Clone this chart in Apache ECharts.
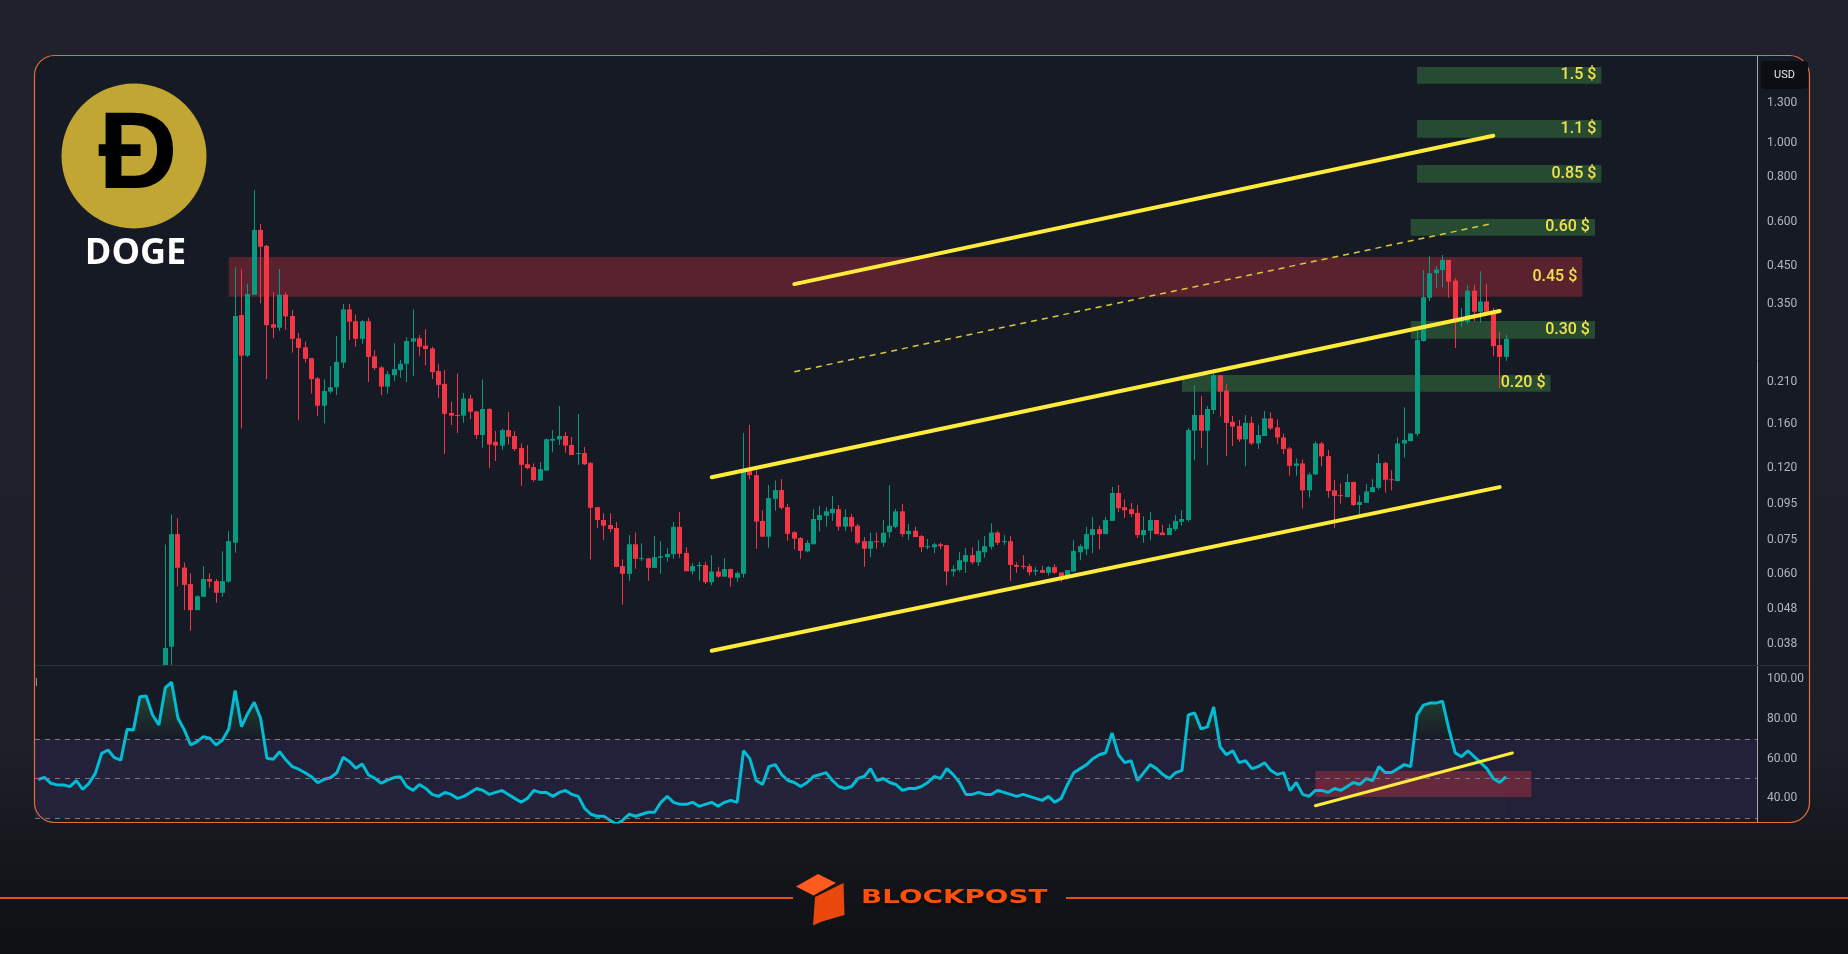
<!DOCTYPE html>
<html><head><meta charset="utf-8">
<script src="https://cdn.jsdelivr.net/npm/echarts@6/dist/echarts.min.js"></script>
<style>
html,body{margin:0;padding:0;width:1848px;height:954px;overflow:hidden;
background:linear-gradient(180deg,#1f222c 0%,#1d2029 78%,#15171d 89%,#0f1013 100%);}
#c{position:absolute;left:0;top:0;width:1848px;height:954px;}
</style></head><body><div id="c"></div><script>
// ---------- DATA (weekly DOGE/USD) ----------
const hiddenWeeks = 20;           // weeks before the first visible candle (price below the axis range)
const firstWeek = '2020-09-07';
const opens = [0.0085,0.0374,0.0780,0.0627,0.0563,0.0475,0.0518,0.0582,0.0574,0.0532,
0.0572,0.0737,0.326,0.250,0.372,0.568,0.512,0.307,0.300,0.372,
0.324,0.280,0.264,0.246,0.2155,0.1803,0.1978,0.2034,0.239,0.338,
0.313,0.279,0.313,0.249,0.2315,0.2043,0.220,0.2275,0.237,0.274,
0.280,0.267,0.262,0.226,0.208,0.1720,0.1697,0.169,0.189,0.1737,
0.1489,0.1765,0.1425,0.139,0.1538,0.148,0.1368,0.1231,0.1208,0.1106,
0.1181,0.1435,0.1447,0.148,0.1395,0.1315,0.1324,0.1240,0.093,0.0855,
0.0828,0.0812,0.0633,0.0602,0.0730,0.0664,0.0666,0.0626,0.0668,0.0671,
0.0684,0.0818,0.0690,0.0612,0.0633,0.0637,0.0570,0.0611,0.0591,0.0621,
0.0587,0.0602,0.1179,0.1146,0.0850,0.0767,0.0982,0.104,0.0930,0.0790,
0.0760,0.0697,0.0730,0.0855,0.0879,0.0894,0.0918,0.0819,0.0872,0.0824,
0.0745,0.0709,0.0745,0.0737,0.0790,0.0818,0.0905,0.0780,0.0797,0.0770,
0.0716,0.0716,0.0730,0.0726,0.0611,0.0617,0.0651,0.0680,0.0649,0.0693,
0.0718,0.0788,0.0743,0.0745,0.0638,0.0634,0.0633,0.0611,0.0617,0.0606,
0.0629,0.0607,0.0591,0.0611,0.0693,0.0707,0.0775,0.0806,0.0780,0.0850,
0.1020,0.0930,0.0918,0.0896,0.0775,0.0797,0.0855,0.0788,0.0775,0.0806,
0.0846,0.0855,0.1532,0.1697,0.1532,0.1753,0.220,0.1990,0.1623,0.1580,
0.1447,0.1613,0.141,0.148,0.166,0.1565,0.1466,0.1364,0.1218,0.1237,
0.1038,0.1151,0.141,0.1298,0.1038,0.1006,0.0993,0.1096,0.0943,0.0957,
0.1026,0.1055,0.124,0.1116,0.1103,0.1408,0.1431,0.150,0.275,0.365,
0.428,0.437,0.467,0.408,0.312,0.312,0.382,0.333,0.356,0.335,
0.268,0.248];
const highs = [0.0729,0.0887,0.0865,0.0648,0.0604,0.0524,0.0633,0.0604,0.0582,0.0698,
0.0796,0.445,0.439,0.400,0.737,0.591,0.515,0.378,0.440,0.378,
0.337,0.290,0.274,0.246,0.2175,0.214,0.2335,0.284,0.350,0.350,
0.327,0.315,0.320,0.259,0.2335,0.226,0.271,0.243,0.282,0.338,
0.286,0.297,0.265,0.237,0.2275,0.1850,0.2225,0.196,0.1933,0.1743,
0.214,0.1780,0.1528,0.1555,0.173,0.1528,0.141,0.1395,0.1237,0.1248,
0.1457,0.1538,0.180,0.1519,0.147,0.1708,0.1377,0.1248,0.093,0.0894,
0.0894,0.0844,0.0662,0.0775,0.0788,0.0735,0.0667,0.077,0.0745,0.0712,
0.0844,0.0901,0.0716,0.0645,0.0651,0.0651,0.0680,0.0629,0.0667,0.0623,
0.0611,0.1508,0.159,0.1184,0.0912,0.1074,0.1106,0.1117,0.0949,0.0796,
0.0765,0.0750,0.0918,0.0937,0.0930,0.1000,0.0943,0.0918,0.0889,0.0833,
0.0765,0.0787,0.0787,0.0855,0.1074,0.0920,0.0949,0.0833,0.0818,0.0775,
0.0755,0.0737,0.0737,0.0728,0.0637,0.0693,0.0712,0.0716,0.0750,0.0770,
0.0838,0.0796,0.0775,0.0770,0.0649,0.0680,0.0643,0.0629,0.0633,0.0634,
0.0641,0.0607,0.0617,0.0750,0.0730,0.0818,0.0872,0.0824,0.0872,0.1060,
0.1074,0.0980,0.0956,0.0943,0.0877,0.0901,0.0855,0.0828,0.0833,0.0883,
0.0912,0.1560,0.206,0.1920,0.180,0.2275,0.220,0.2085,0.1686,0.1642,
0.1697,0.168,0.159,0.1741,0.1729,0.1649,0.1505,0.1378,0.1278,0.1270,
0.1166,0.1431,0.1422,0.135,0.111,0.1086,0.1154,0.1099,0.1006,0.1081,
0.1117,0.1316,0.1250,0.1184,0.1466,0.1785,0.1505,0.297,0.437,0.479,
0.449,0.482,0.467,0.414,0.341,0.397,0.397,0.434,0.399,0.341,
0.292,0.286];
const lows = [0.0075,0.030,0.0555,0.0475,0.0415,0.0475,0.0518,0.0551,0.0498,0.0518,
0.0568,0.0691,0.1555,0.248,0.372,0.352,0.2145,0.280,0.294,0.296,
0.255,0.164,0.239,0.1953,0.1690,0.1607,0.1953,0.1933,0.2305,0.277,
0.265,0.270,0.2105,0.2275,0.1933,0.1953,0.2115,0.2165,0.2105,0.219,
0.250,0.235,0.2145,0.190,0.1316,0.159,0.151,0.1613,0.1653,0.1450,
0.137,0.120,0.1256,0.135,0.1403,0.1341,0.1069,0.1192,0.1098,0.1106,
0.1177,0.1331,0.1395,0.1327,0.1307,0.1224,0.1224,0.0662,0.0812,0.0751,
0.0790,0.0630,0.0492,0.0575,0.0622,0.0655,0.0575,0.0626,0.0602,0.0652,
0.0664,0.0668,0.0612,0.0599,0.0575,0.0563,0.0559,0.0587,0.0591,0.0553,
0.0572,0.0587,0.1116,0.0709,0.0767,0.0714,0.0908,0.0916,0.0747,0.0705,
0.0664,0.0693,0.0730,0.0793,0.0819,0.0851,0.0797,0.0797,0.0793,0.0730,
0.0630,0.0671,0.0709,0.0718,0.0760,0.0810,0.0765,0.0751,0.0765,0.0693,
0.0707,0.0689,0.0707,0.0559,0.0591,0.0611,0.0605,0.0641,0.0633,0.0668,
0.0705,0.0726,0.0726,0.0574,0.0606,0.0621,0.0595,0.0595,0.0606,0.0595,
0.0602,0.0572,0.0580,0.0611,0.0658,0.0680,0.0689,0.0707,0.0780,0.0850,
0.0901,0.0866,0.0872,0.0760,0.0737,0.0750,0.0780,0.0775,0.0775,0.0796,
0.0824,0.0846,0.1264,0.137,0.1224,0.1709,0.168,0.1298,0.1387,0.1425,
0.1214,0.1395,0.1359,0.148,0.1538,0.1406,0.1316,0.1141,0.1141,0.0922,
0.0991,0.1151,0.1214,0.0991,0.0810,0.0953,0.0993,0.0937,0.0889,0.0957,
0.1026,0.1044,0.1022,0.1038,0.1099,0.1287,0.1431,0.148,0.274,0.357,
0.389,0.390,0.365,0.263,0.302,0.307,0.313,0.310,0.333,0.249,
0.2025,0.242];
const closes = [0.0371,0.0780,0.0626,0.0560,0.0475,0.0520,0.0582,0.0572,0.0532,0.0574,
0.0745,0.324,0.250,0.374,0.568,0.509,0.305,0.300,0.372,0.323,
0.279,0.263,0.245,0.2145,0.1803,0.1985,0.2034,0.240,0.338,0.312,
0.279,0.313,0.248,0.2305,0.2043,0.2215,0.229,0.237,0.275,0.280,
0.265,0.261,0.2245,0.2065,0.1709,0.169,0.169,0.189,0.1733,0.1489,
0.1765,0.140,0.139,0.1538,0.1473,0.1359,0.1226,0.120,0.111,0.1192,
0.1448,0.1452,0.148,0.139,0.1307,0.1324,0.1231,0.0926,0.0855,0.0824,
0.0806,0.0630,0.0602,0.0730,0.0664,0.0667,0.0626,0.0671,0.0675,0.0685,
0.0818,0.0686,0.0612,0.0633,0.0638,0.0570,0.0611,0.0591,0.0621,0.0587,
0.0605,0.1179,0.1146,0.0846,0.0767,0.0987,0.104,0.0926,0.0781,0.0757,
0.0699,0.0736,0.0861,0.0883,0.0905,0.0920,0.0819,0.0872,0.0819,0.0737,
0.0709,0.0745,0.0742,0.0787,0.0824,0.0905,0.0780,0.0797,0.0765,0.0716,
0.0721,0.0730,0.0721,0.0611,0.0621,0.0658,0.0680,0.0649,0.0699,0.0721,
0.0788,0.0737,0.0745,0.0638,0.0630,0.0630,0.0608,0.0617,0.0606,0.0629,
0.0606,0.0591,0.0617,0.0699,0.0721,0.0780,0.0806,0.0780,0.0855,0.1020,
0.0924,0.0912,0.0889,0.0775,0.0801,0.0855,0.0780,0.0775,0.0812,0.0850,
0.0861,0.1538,0.1697,0.1532,0.1765,0.220,0.1978,0.1613,0.1573,0.1447,
0.1613,0.1410,0.1489,0.166,0.1555,0.1466,0.1359,0.1218,0.1237,0.1038,
0.1151,0.141,0.1295,0.1033,0.1001,0.1001,0.1096,0.0943,0.0962,0.1031,
0.1060,0.1240,0.1112,0.1112,0.1410,0.1441,0.1505,0.277,0.366,0.428,
0.439,0.467,0.405,0.310,0.317,0.382,0.333,0.356,0.333,0.266,
0.248,0.279];
// RSI(14), one value per week from the first week
const rsi = [49.5,50.6,47.6,46.8,46.8,45.9,48.9,44.6,47.6,52.6,
62.7,64.4,60.5,59.3,74.8,74.5,91.2,91.6,82.0,77.0,
95.8,98.5,80.4,74.5,66.9,68.6,71.1,70.3,66.9,69.4,
75.0,94.3,76.1,82.9,88.4,80.4,60.2,59.7,63.5,59.3,
56.0,54.7,52.9,50.9,47.9,49.6,50.4,52.9,60.7,58.5,
55.2,57.3,51.8,50.1,47.6,49.3,50.5,50.9,46,44,
47,45,42,41,43,42,40,41,43,45,
44,42,43,44,42,40,38,40,44,43,
43,41,43,44,42,41,35,32,31,31,
29,27,29,32,31,32,33,33,38,41,
38,37,37,38,36,37,38,36,38,39,
38,64,60,49,47,56,57,52,49,48,
46,48,51,52,53,49,46,45,46,50,
51,55,49,50,48,47,44,45,45,46,
48,51,50,55,52,48,42,42,43,42,
42,44,43,42,41,42,41,40,39,41,
38,40,47,53,55,57,60,62,63,73,
62,58,59,49,53,57,55,52,50,53,
54,82,83,75,76,86,66,62,64,58,
59,55,56,58,54,52,53,44,48,42,
41,44,44,43,45,44,46,48,47,50,
49,56,53,53,55,57,56,82,87,88,
88,89,75,63,61,64,61,58,55,50,
48,51];
const lastPrice = 0.279;
const totalSlots = 271;           // weeks on the time axis incl. empty right margin
const priceRange = [0.0332, 1.767];
const priceTicks = [1.3, 1.0, 0.8, 0.6, 0.45, 0.35, 0.21, 0.16, 0.12, 0.095, 0.075, 0.06, 0.048, 0.038];
const rsiRange = [28.1, 107.2];
const rsiTicks = [40, 60, 80, 100];
const rsiLevels = [70, 50, 30];
// price zones
const zoneLabels = ['1.5 $','1.1 $','0.85 $','0.60 $','0.45 $','0.30 $','0.20 $'];
const zoneFrom   = [217,217,217,216,30,216,180];
const zoneTo     = [246,246,246,245,243,245,238];
const zoneLow    = [1.475,1.037,0.773,0.547,0.367,0.2791,0.1975];
const zoneHigh   = [1.644,1.163,0.867,0.610,0.476,0.3133,0.2202];
const zoneKind   = ['g','g','g','g','r','g','g'];
// trend lines: [week0, price0, week1, price1, dashed]
const trendLines = [[119,0.3988,229,1.050,0],[106,0.1131,230,0.3344,0],[106,0.03643,230,0.1060,0],[119,0.2251,229,0.5929,1]];
const rsiBox = [201,40.7,235,53.8];
const rsiTrend = [201,36.3,232,62.9];

// ---------- BUILD ----------
const categories = [];
{ const d0 = new Date(firstWeek + 'T00:00:00Z');
  for (let i = 0; i < totalSlots; i++) { const d = new Date(d0.getTime() + i*7*86400000); categories.push(d.toISOString().slice(0,10)); } }
const L = Math.log;
const candleRows = opens.map((o, k) => [hiddenWeeks + k, L(o), L(closes[k]), L(lows[k]), L(highs[k])]);

const GREEN = '#089981', RED = '#f23645', YEL = '#ffeb3b';
const FONT = 'Roboto, "Noto Sans", sans-serif';
const LEFT = 35, WIDTH = 1722;

const zoneAreas = zoneLabels.map((lab, i) => [
  { name: lab, xAxis: zoneFrom[i], yAxis: L(zoneLow[i]),
    itemStyle: { color: zoneKind[i] === 'r' ? 'rgba(242,54,69,0.31)' : 'rgba(76,175,80,0.33)' } },
  { xAxis: zoneTo[i], yAxis: L(zoneHigh[i]) }
]);
const trendMarks = trendLines.map(t => [
  { coord: [t[0], L(t[1])], lineStyle: t[4] ? { color: '#d8c83a', width: 1.5, type: [6, 5], cap: 'butt' } : { color: YEL, width: 4, type: 'solid', cap: 'round' } },
  { coord: [t[2], L(t[3])] }
]);

function renderCandle(params, api) {
  const i = api.value(0);
  const vo = api.value(1), vc = api.value(2);
  const po = api.coord([i, vo]), pc = api.coord([i, vc]);
  const pl = api.coord([i, api.value(3)]), ph = api.coord([i, api.value(4)]);
  const cs = params.coordSys;
  const box = { x: cs.x, y: cs.y, width: cs.width, height: cs.height };
  const col = vc >= vo ? GREEN : RED;
  const cx = Math.floor(po[0]);
  const wick = echarts.graphic.clipRectByRect({ x: cx, y: ph[1], width: 1, height: pl[1] - ph[1] }, box);
  const top = Math.min(po[1], pc[1]);
  const body = echarts.graphic.clipRectByRect({ x: cx - 2, y: top, width: 5, height: Math.max(1, Math.abs(po[1] - pc[1])) }, box);
  const children = [];
  if (wick) children.push({ type: 'rect', shape: wick, style: { fill: col } });
  if (body) children.push({ type: 'rect', shape: body, style: { fill: col } });
  return { type: 'group', children };
}

const chart = echarts.init(document.getElementById('c'), null, { renderer: 'canvas' });
const option = {
  backgroundColor: 'transparent',
  animation: false,
  grid: [
    { left: LEFT, width: WIDTH, top: 56, height: 609 },
    { left: LEFT, width: WIDTH, top: 665, height: 157 }
  ],
  xAxis: [
    { type: 'category', data: categories, gridIndex: 0, show: false, boundaryGap: true },
    { type: 'category', data: categories, gridIndex: 1, show: false, boundaryGap: true }
  ],
  yAxis: [
    { type: 'value', gridIndex: 0, position: 'right', min: L(priceRange[0]), max: L(priceRange[1]),
      axisLine: { show: true, lineStyle: { color: '#a3a6af', width: 1 } },
      axisTick: { show: false }, splitLine: { show: false },
      axisLabel: { customValues: priceTicks.map(L), formatter: v => Math.exp(v).toFixed(3),
        color: '#b2b5be', fontSize: 12, fontFamily: FONT, margin: 10 } },
    { type: 'value', gridIndex: 1, position: 'right', min: rsiRange[0], max: rsiRange[1],
      axisLine: { show: true, lineStyle: { color: '#a3a6af', width: 1 } },
      axisTick: { show: false }, splitLine: { show: false },
      axisLabel: { customValues: rsiTicks, formatter: v => v.toFixed(2),
        color: '#b2b5be', fontSize: 12, fontFamily: FONT, margin: 10 } }
  ],
  series: [
    // zones
    { type: 'line', xAxisIndex: 0, yAxisIndex: 0, data: [], silent: true, z: 1,
      markArea: { silent: true, data: zoneAreas,
        label: { show: true, position: 'insideRight', distance: 5, color: '#f3e14b', fontSize: 16, fontFamily: FONT, fontWeight: 500 } } },
    // candles
    { type: 'custom', xAxisIndex: 0, yAxisIndex: 0, data: candleRows, clip: true, z: 2, silent: true,
      encode: { x: 0, y: [1, 2, 3, 4] }, renderItem: renderCandle },
    // trend lines + last price
    { type: 'line', xAxisIndex: 0, yAxisIndex: 0, data: [], silent: true, z: 4,
      markLine: { silent: true, symbol: ['none', 'none'],
        data: trendMarks.concat([{ yAxis: L(lastPrice), lineStyle: { opacity: 0 },
          label: { show: true, position: 'end', distance: 1, formatter: () => lastPrice.toFixed(3),
            backgroundColor: GREEN, color: '#ffffff', fontSize: 12, fontWeight: 'bold', fontFamily: FONT,
            padding: [4, 9, 3, 9], borderRadius: 2 } }]),
        label: { show: false } } },
    // overbought fill
    { type: 'line', xAxisIndex: 1, yAxisIndex: 1, data: rsi, symbol: 'none', silent: true, z: 1,
      lineStyle: { opacity: 0 },
      areaStyle: { color: new echarts.graphic.LinearGradient(0, 668, 0, 738, [
        { offset: 0, color: 'rgba(76,175,80,0.62)' }, { offset: 1, color: 'rgba(76,175,80,0.02)' }], true) } },
    { type: 'line', xAxisIndex: 1, yAxisIndex: 1, data: rsi, symbol: 'none', silent: true, z: 3,
      lineStyle: { color: '#00bcd4', width: 3 },
      markArea: { silent: true, data: [
        [{ yAxis: rsiLevels[2], itemStyle: { color: 'rgba(126,87,194,0.13)' } }, { yAxis: rsiLevels[0] }],
        [{ xAxis: rsiBox[0], yAxis: rsiBox[1], itemStyle: { color: 'rgba(242,54,69,0.32)' } }, { xAxis: rsiBox[2], yAxis: rsiBox[3] }]
      ] },
      markLine: { silent: true, symbol: ['none','none'], label: { show: false },
        data: rsiLevels.map(v => ({ yAxis: v, lineStyle: { color: '#787b86', type: [5, 5], width: 1 } }))
          .concat([[{ coord: [rsiTrend[0], rsiTrend[1]], lineStyle: { color: YEL, width: 3, type: 'solid', cap: 'round' } },
                    { coord: [rsiTrend[2], rsiTrend[3]] }]]) } }
  ],
  graphic: [
    { type: 'rect', z: -10, silent: true, shape: { x: 34.5, y: 55.5, width: 1775, height: 767, r: 20 },
      style: { fill: '#161a25', stroke: '#e86d3e', lineWidth: 1.2 } },
    { type: 'line', z: 5, silent: true, shape: { x1: 35, y1: 665.5, x2: 1809, y2: 665.5 }, style: { stroke: '#2b2f3a', lineWidth: 1 } },
    // DOGE logo
    { type: 'circle', z: 10, silent: true, shape: { cx: 134, cy: 156, r: 72.5 }, style: { fill: '#c2a633' } },
    { type: 'text', z: 11, silent: true, x: 138, y: 158, style: { text: 'Ð', fill: '#000', font: 'bold 110px "Liberation Sans", Arial, sans-serif', align: 'center', verticalAlign: 'middle' } },
    { type: 'text', z: 11, silent: true, x: 135.5, y: 254, style: { text: 'DOGE', fill: '#ffffff', font: 'bold 36px "Open Sans", sans-serif', align: 'center', verticalAlign: 'middle' } },
    // USD box
    { type: 'rect', z: 10, silent: true, shape: { x: 1761, y: 61, width: 47, height: 28, r: 4 }, style: { fill: '#0c0e13' } },
    { type: 'text', z: 11, silent: true, x: 1784.5, y: 75, style: { text: 'USD', fill: '#e6e8ee', font: '11px ' + FONT, align: 'center', verticalAlign: 'middle' } },
    { type: 'text', z: 11, silent: true, x: 35, y: 683, style: { text: 'I', fill: '#9598a1', font: '11px ' + FONT, align: 'left', verticalAlign: 'middle' } },
    // BLOCKPOST brand
    { type: 'line', silent: true, shape: { x1: 0, y1: 898, x2: 793, y2: 898 }, style: { stroke: '#f04c12', lineWidth: 2 } },
    { type: 'line', silent: true, shape: { x1: 1066, y1: 898, x2: 1848, y2: 898 }, style: { stroke: '#f04c12', lineWidth: 2 } },
    { type: 'polygon', silent: true, shape: { points: [[796, 886.5], [818, 874], [836, 883], [813.5, 895.5]] }, style: { fill: '#ff5a1f' } },
    { type: 'polygon', silent: true, shape: { points: [[815, 897], [843.5, 883], [844.5, 915], [822, 921.5], [813, 925.5]] }, style: { fill: '#e9470b' } },
    { type: 'text', silent: true, x: 861, y: 898, scaleX: 1.425, scaleY: 1, originX: 0, originY: 0,
      style: { text: 'BLOCKPOST', fill: '#ff4f0d', font: 'bold 19.5px "DejaVu Sans", sans-serif', align: 'left', verticalAlign: 'middle',
        textShadowColor: 'rgba(0,0,0,0.6)', textShadowBlur: 3, textShadowOffsetY: 2 } }
  ]
};
chart.setOption(option);
</script></body></html>
